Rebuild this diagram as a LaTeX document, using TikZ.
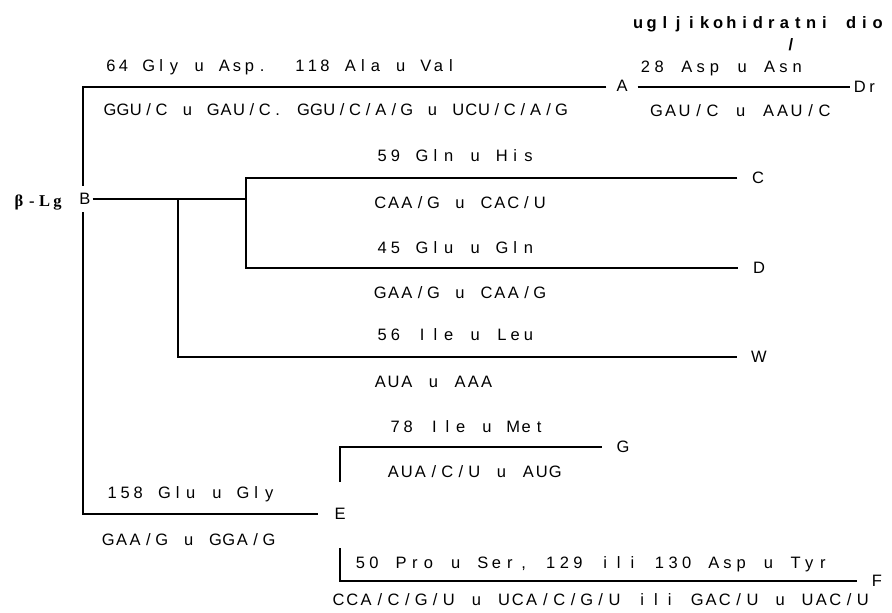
\documentclass[tikz,border=0pt]{standalone}
\usepackage{fontspec}
\setmainfont{Liberation Sans}
\newfontfamily\serifB{Liberation Serif}
\ExplSyntaxOn
\dim_new:N \l_tw_pitch_dim
\NewDocumentCommand \tw { O{13.3pt} m }
  {
    \dim_set:Nn \l_tw_pitch_dim {#1}
    \str_map_inline:nn {#2}
      {
        \str_if_eq:nnTF {##1} {*}
          { \hbox_to_wd:nn {\l_tw_pitch_dim} {\hfil} }
          { \hbox_to_wd:nn {\l_tw_pitch_dim} { \hfil ##1 \hfil } }
      }
  }
\ExplSyntaxOff
\newcommand\fs{\fontsize{16.5}{19}\selectfont}
\begin{document}
\begin{tikzpicture}[x=1pt,y=-1pt,line width=1.2pt,
  lab/.style={font=\fs,inner xsep=14pt,inner ysep=2pt},
  txt/.style={font=\fs,anchor=base west,inner sep=0pt}]
\useasboundingbox (0,0) rectangle (892,613);
% labels
\node[lab,inner xsep=1.5pt,inner ysep=7pt] (B) at (85,199) {B};
\node[txt] (blg) at (12,206) {\serifB\bfseries\tw[12.8pt]{β-Lg}};
\node[lab,inner xsep=9.5pt] (A) at (622,86) {A};
\node[lab,inner xsep=3pt] (Dr) at (866,87) {\tw[12.5pt]{Dr}};
\node[lab] (C) at (758,178) {C};
\node[lab] (D) at (759,268) {D};
\node[lab] (W) at (759,357) {W};
\node[lab] (G) at (623,447) {G};
\node[lab,inner xsep=16pt] (E) at (340,514) {E};
\node[lab] (F) at (877,581) {F};
% texts
\node[txt] (ug) at (631,28) {\bfseries\tw[13.3pt]{ugljikohidratni dio}};
\node[font=\fs\bfseries,inner sep=0pt] (sl) at (791,45) {/};
\node[txt] (t1) at (104,71) {\tw[12.6pt]{64 Gly u Asp. *118 Ala u Val}};
\node[txt] (t2) at (103,115) {\tw[12.9pt]{GGU/C u GAU/C. GGU/C/A/G u UCU/C/A/G}};
\node[txt] (t3) at (638,72) {\tw[13.8pt]{28 Asp u Asn}};
\node[txt] (t4) at (649,116) {\tw[14pt]{GAU/C u AAU/C}};
\node[txt] (t5) at (375,161) {\tw{59 Gln u His}};
\node[txt] (t6) at (373,208) {\tw{CAA/G u CAC/U}};
\node[txt] (t7) at (375,253) {\tw{45 Glu u Gln}};
\node[txt] (t8) at (373,298) {\tw{GAA/G u CAA/G}};
\node[txt] (t9) at (375,340) {\tw{56 Ile u Leu}};
\node[txt] (t10) at (373,387) {\tw{AUA u AAA}};
\node[txt] (t11) at (388,432) {\tw[13.1pt]{78 Ile u Met}};
\node[txt] (t12) at (386,477) {\tw[13.5pt]{AUA/C/U u AUG}};
\node[txt] (t13) at (105,498) {\tw[13.1pt]{158 Glu u Gly}};
\node[txt] (t14) at (101,545) {\tw[13.4pt]{GAA/G u GGA/G}};
\node[txt] (t15) at (353,568) {\tw[13.6pt]{50 Pro u Ser, 129 ili 130 Asp u Tyr}};
\node[txt] (t16) at (331,605) {\tw[13.8pt]{CCA/C/G/U u UCA/C/G/U ili GAC/U u UAC/U}};
% junctions
\coordinate (tl) at (83,87);
\coordinate (bl) at (83,514);
\coordinate (j1) at (178,199);
\coordinate (j2) at (246,199);
\coordinate (cT) at (246,178);
\coordinate (cB) at (246,268);
\coordinate (wc) at (178,357);
\coordinate (gb) at (340,482);
\coordinate (ft) at (340,548);
% connectors
\draw (A.west |- tl) -- (tl) -- (tl |- B.north);
\draw (tl |- B.south) -- (bl) -- (E.west);
\draw (A.east |- tl) -- (Dr.west);
\draw (B.east) -- (j2);
\draw (C.west) -- (cT) -- (cB) -- (D.west);
\draw (j1) -- (wc) -- (W.west);
\draw (gb) -- (gb |- G.west) -- (G.west);
\draw (ft) -- (ft |- F.west) -- (F.west);
\end{tikzpicture}
\end{document}
